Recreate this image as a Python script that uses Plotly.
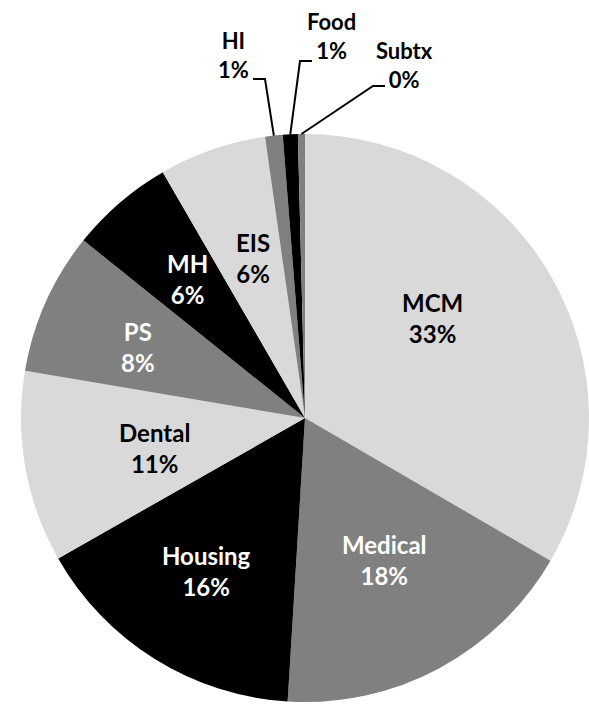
import math
import plotly.graph_objects as go

labels = ["MCM", "Medical", "Housing", "Dental", "PS", "MH", "EIS", "HI", "Food", "Subtx"]
values = [33.4, 17.6, 15.8, 10.9, 8.1, 5.9, 6.1, 1.0, 0.85, 0.4]
colors = ["#d9d9d9", "#808080", "#000000", "#d9d9d9", "#808080", "#000000",
          "#d9d9d9", "#808080", "#000000", "#808080"]
text_colors = ["black", "white", "white", "black", "white", "white", "black",
               "black", "black", "black"]

W, H = 589, 707
CX, CY, R = 305, 418, 284  # pie geometry in pixels (from domain)

# label block centres (pixels)
label_pos = {
    "MCM": (432, 318), "Medical": (385, 560), "Housing": (206, 571),
    "Dental": (154, 448), "PS": (138, 347), "MH": (187, 279), "EIS": (253, 258),
    "HI": (233, 55), "Food": (331, 36), "Subtx": (404, 65),
}
# leader line elbows for outside labels: (elbow, end)
leaders = {
    "HI": ((265, 79), (253, 79)),
    "Food": ((300, 61), (312, 61)),
    "Subtx": ((373, 86), (385, 86)),
}

total = sum(values)

fig = go.Figure(go.Pie(
    labels=labels, values=values, sort=False, direction="clockwise", rotation=0,
    marker=dict(colors=colors, line=dict(width=0)),
    textinfo="none", hoverinfo="none", showlegend=False,
    domain=dict(x=[(CX - R) / W, 1], y=[(H - CY - R) / H, (H - CY + R) / H]),
))

def px2paper(x, y):
    return x / W, 1 - y / H

annotations = []
shapes = []
cum = 0.0
for lab, v, tc in zip(labels, values, text_colors):
    frac_mid = (cum + v / 2) / total
    cum += v
    pct = f"{v / total:.0%}"
    x, y = px2paper(*label_pos[lab])
    outside = lab in leaders
    annotations.append(dict(
        x=x, y=y, xref="paper", yref="paper", showarrow=False,
        text=f"<b>{lab}<br>{pct}</b>", xanchor="center", yanchor="middle",
        font=dict(family="Lato, Calibri, sans-serif", size=22 if outside else 24, color=tc),
    ))
    if outside:
        th = 2 * math.pi * frac_mid
        rx, ry = CX + R * math.sin(th), CY - R * math.cos(th)
        (ex, ey), (tx, ty) = leaders[lab]
        p0 = px2paper(rx, ry)
        p1 = px2paper(ex, ey)
        p2 = px2paper(tx, ty)
        shapes.append(dict(
            type="path", xref="paper", yref="paper",
            path=f"M {p0[0]},{p0[1]} L {p1[0]},{p1[1]} L {p2[0]},{p2[1]}",
            line=dict(color="black", width=2),
        ))

fig.update_layout(
    width=W, height=H, margin=dict(l=0, r=0, t=0, b=0),
    paper_bgcolor="white", plot_bgcolor="white",
    annotations=annotations, shapes=shapes,
)

fig.write_html("out.html", config={"displayModeBar": False},
               post_script="document.body.style.margin='0';document.body.style.overflow='hidden';")
